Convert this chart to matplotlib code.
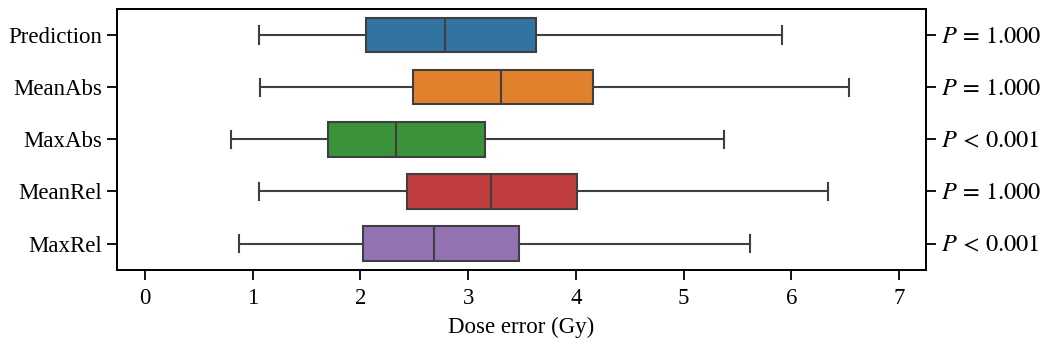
import matplotlib
matplotlib.use("Agg")
import matplotlib.pyplot as plt

plt.rcParams['font.family'] = ['Liberation Serif', 'DejaVu Serif']
plt.rcParams['mathtext.fontset'] = 'stix'

# data (Gy)
methods = ["Prediction", "MeanAbs", "MaxAbs", "MeanRel", "MaxRel"]
whislo = [1.06, 1.07, 0.80, 1.06, 0.87]
q1 = [2.05, 2.49, 1.70, 2.43, 2.02]
med = [2.78, 3.30, 2.33, 3.21, 2.68]
q3 = [3.63, 4.16, 3.16, 4.01, 3.47]
whishi = [5.91, 6.53, 5.37, 6.34, 5.62]
p_labels = [r"$P\,=\,1.000$", r"$P\,=\,1.000$", r"$P\,<\,0.001$",
            r"$P\,=\,1.000$", r"$P\,<\,0.001$"]
colors = ["#3274a1", "#e1812c", "#3a923a", "#c03d3e", "#9372b2"]

stats = []
for i in range(len(methods)):
    stats.append(dict(label=methods[i], whislo=whislo[i], q1=q1[i], med=med[i],
                      q3=q3[i], whishi=whishi[i], fliers=[]))

fig = plt.figure(figsize=(10.5, 3.46), dpi=100)
ax = fig.add_axes([0.1114, 0.2205, 0.7706, 0.7535])

lc = "#3f3f3f"
bp = ax.bxp(stats, positions=range(len(methods)), vert=False, widths=0.66,
            patch_artist=True, showfliers=False,
            boxprops=dict(edgecolor=lc, linewidth=1.5),
            medianprops=dict(color=lc, linewidth=1.5),
            whiskerprops=dict(color=lc, linewidth=1.5),
            capprops=dict(color=lc, linewidth=1.5))
for patch, c in zip(bp['boxes'], colors):
    patch.set_facecolor(c)

ax.set_xlim(-0.26, 7.25)
ax.set_ylim(4.5, -0.5)
ax.set_xticks(range(8))
ax.set_yticks(range(len(methods)))
ax.set_yticklabels(methods)
ax.set_xlabel("Dose error (Gy)", fontsize=16.5, labelpad=6)
ax.tick_params(labelsize=16.5, width=1.3, length=7)
ax.tick_params(axis='x', pad=6)
for s in ax.spines.values():
    s.set_linewidth(1.3)

ax2 = ax.twinx()
ax2.set_ylim(ax.get_ylim())
ax2.set_yticks(range(len(methods)))
ax2.set_yticklabels(p_labels)
ax2.tick_params(labelsize=17.5, width=1.3, length=7)
for s in ax2.spines.values():
    s.set_linewidth(1.3)

fig.savefig("out.png", dpi=100)
